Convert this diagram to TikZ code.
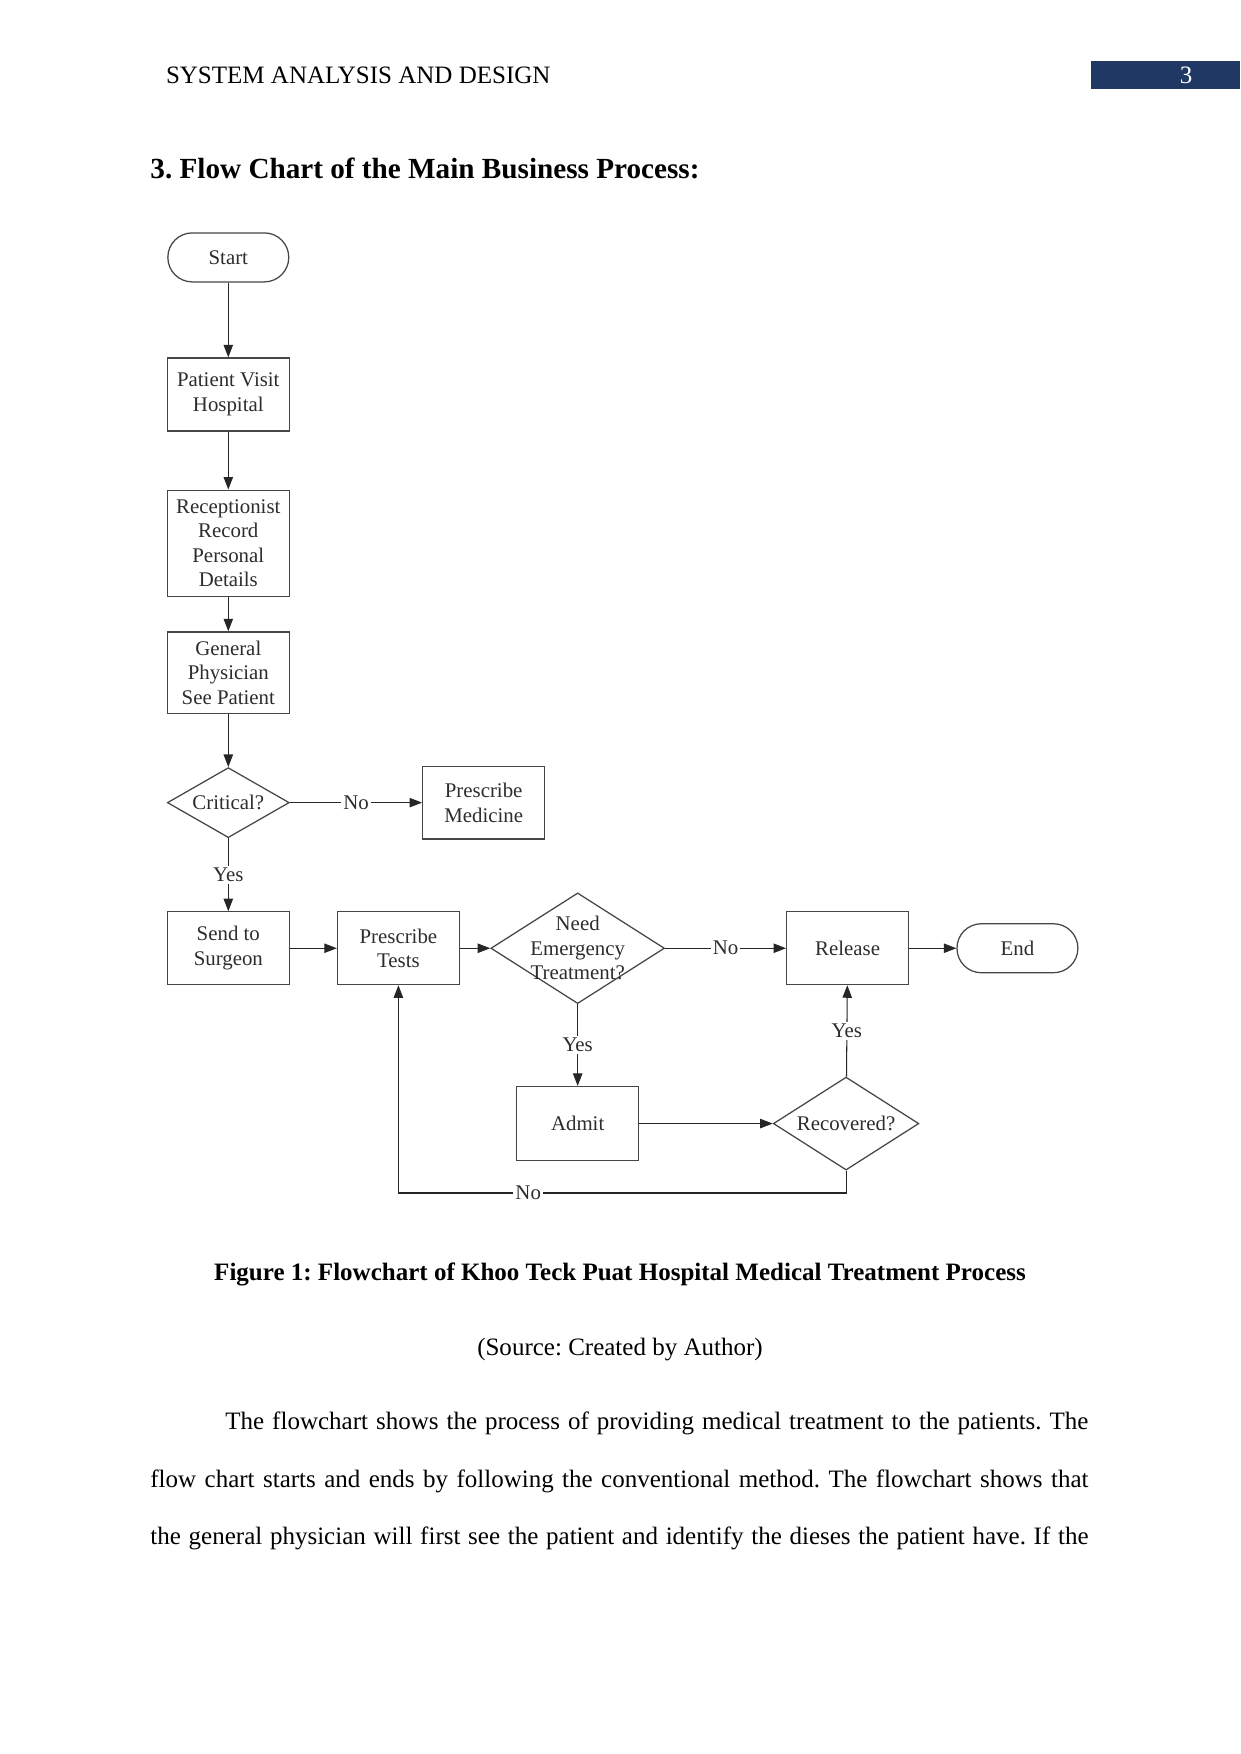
\documentclass[tikz,border=0pt]{standalone}
\usepackage{fontspec}
\setmainfont{Liberation Serif}
\usepackage{xcolor}
\usepackage{tikz}
\usetikzlibrary{arrows.meta,shapes.geometric,positioning}

\definecolor{navy}{RGB}{31,56,100}
\definecolor{chartline}{RGB}{70,70,70}
\definecolor{charttext}{RGB}{45,45,45}

\frenchspacing
\begin{document}
\begin{tikzpicture}[
  x=0.4797pt, y=-0.4797pt,
  process/.style={rectangle, draw=chartline, line width=0.6pt, fill=white, minimum width=58.5pt, minimum height=35pt, inner sep=1pt, font=\fontsize{10}{11.8}\selectfont, text=charttext, align=center},
  terminal/.style={rectangle, rounded corners=11.7pt, draw=chartline, line width=0.6pt, minimum width=58pt, minimum height=23.5pt, font=\fontsize{10}{11.8}\selectfont, text=charttext, align=center},
  decision/.style={diamond, draw=chartline, line width=0.6pt, inner sep=0pt, aspect=1.7, font=\fontsize{10}{11.8}\selectfont, text=charttext, align=center},
  dtext/.style={font=\fontsize{10}{11.8}\selectfont, text=charttext, align=center, inner sep=0pt},
  lbl/.style={fill=white, inner sep=1pt, font=\fontsize{10}{11.8}\selectfont, text=charttext},
  arr/.style={-{Triangle[length=6pt,width=4.5pt]}, draw=black!85, line width=0.5pt},
  page/.style={font=\fontsize{12}{14}\selectfont}
]
\useasboundingbox[fill=white] (0,0) rectangle (1241,1754);

% page header
\node[page, anchor=west, inner sep=0pt] (header) at (165.6,75) {SYSTEM ANALYSIS AND DESIGN};
\fill[navy] (1091,61.5) rectangle (1240,89.5);
\node[page, text=white] (pagenum) at (1186,75) {3};
\node[anchor=west, inner sep=0pt, font=\fontsize{14}{16}\selectfont\bfseries] (heading) at (150,168) {3. Flow Chart of the Main Business Process:};

% flow chart
\node[terminal] (start) at (228.3,257.4) {Start};
\node[process, below=35.9pt of start] (visit) {Patient Visit\\Hospital};
\node[process, minimum height=50.9pt, below=27.8pt of visit] (reception) {Receptionist\\Record\\Personal\\Details};
\node[process, minimum height=39.3pt, below=16.5pt of reception] (physician) {General\\Physician\\See Patient};
\node[decision, minimum width=58.5pt, minimum height=33.6pt, below=25.2pt of physician] (critical) {Critical?};
\node[process, right=63.4pt of critical] (medicine) {Prescribe\\Medicine};
\node[process, minimum height=34.9pt, below=35pt of critical] (surgeon) {Send to\\Surgeon};
\node[process, minimum height=34.9pt, right=22.5pt of surgeon] (tests) {Prescribe\\Tests};
\node[decision, minimum width=83.3pt, minimum height=53.1pt, right=14.5pt of tests] (emergency) {};
\node[dtext] (emergencytxt) at (emergency) {Need\\Emergency\\Treatment?};
\node[process, minimum height=34.9pt, right=58pt of emergency] (release) {Release};
\node[terminal, right=22.6pt of release] (end) {End};
\node[process, minimum height=35.5pt, below=39.2pt of emergency] (admit) {Admit};
\node[decision, aspect=1.56, minimum width=69.8pt, minimum height=44.6pt, right=64pt of admit] (recovered) {Recovered?};

\draw[arr] (start) -- (visit);
\draw[arr] (visit) -- (reception);
\draw[arr] (reception) -- (physician);
\draw[arr] (physician) -- (critical);
\draw[arr] (critical) -- node[lbl] {No} (medicine);
\draw[arr] (critical) -- node[lbl] {Yes} (surgeon);
\draw[arr] (surgeon) -- (tests);
\draw[arr] (tests) -- (emergency);
\draw[arr] (emergency) -- node[lbl] {No} (release);
\draw[arr] (emergency) -- node[lbl] {Yes} (admit);
\draw[arr] (release) -- (end);
\draw[arr] (admit) -- (recovered);
\draw[arr] (recovered) -- node[lbl] {Yes} (release);
\draw[arr] (recovered.south) -- ++(0,-10.7pt) coordinate (loopturn)
  -- (loopturn -| tests.south) node[lbl, pos=0.71] {No} -- (tests.south);

% caption and text
\node[page, font=\fontsize{12}{14}\selectfont\bfseries] (caption) at (620,1274) {Figure 1: Flowchart of Khoo Teck Puat Hospital Medical Treatment Process};
\node[page] (source) at (620,1349.5) {(Source: Created by Author)};
\node[page, anchor=west, inner sep=0pt] (line1) at (225,1423.2) {\makebox[414pt][s]{The flowchart shows the process of providing medical treatment to the patients. The}};
\node[page, anchor=west, inner sep=0pt] (line2) at (150,1481.2) {\makebox[450pt][s]{flow chart starts and ends by following the conventional method. The flowchart shows that}};
\node[page, anchor=west, inner sep=0pt] (line3) at (150,1538.2) {\makebox[450pt][s]{the general physician will first see the patient and identify the dieses the patient have. If the}};
\end{tikzpicture}
\end{document}
